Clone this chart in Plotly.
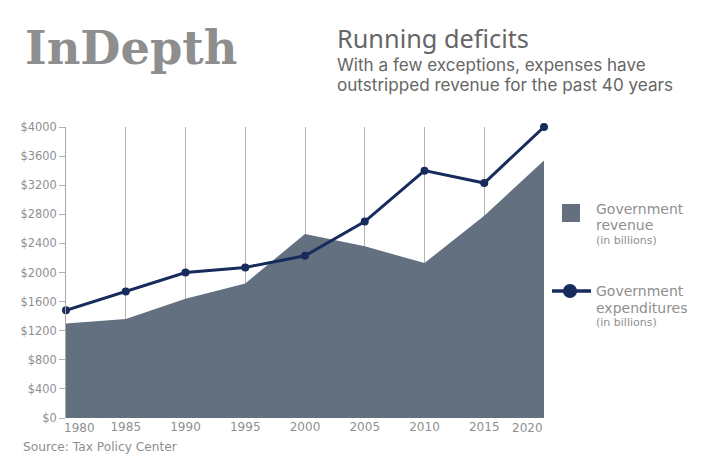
import plotly.graph_objects as go

W, H = 712, 475
L, R, T, B = 66, 544, 127, 418

years = [1980, 1985, 1990, 1995, 2000, 2005, 2010, 2015, 2020]
revenue = [1300, 1360, 1640, 1850, 2530, 2360, 2130, 2780, 3540]
expenditures = [1480, 1740, 2000, 2070, 2230, 2700, 3400, 3230, 4000]
y_ticks = [0, 400, 800, 1200, 1600, 2000, 2400, 2800, 3200, 3600, 4000]
y_labels = ["$" + str(v) for v in y_ticks]
x_labels = [str(y) for y in years]
positions = list(range(len(years)))

NAVY = "#172c5c"
GREY = "#8f8f8f"
AREA = "rgba(92,106,123,0.96)"
FONT = "DejaVu Sans"
TICK = 12


def px(x):
    return (x - L) / (R - L)


def py(y):
    return (B - y) / (B - T)


fig = go.Figure()
fig.add_trace(go.Scatter(x=positions, y=revenue, mode="none", fill="tozeroy",
                         fillcolor=AREA, hoverinfo="skip", name="Government revenue"))
fig.add_trace(go.Scatter(x=positions, y=expenditures, mode="lines+markers",
                         line=dict(color=NAVY, width=3), marker=dict(color=NAVY, size=8),
                         cliponaxis=False, name="Government expenditures"))


def text(x, y, s, size, color=GREY, family=FONT):
    return dict(x=px(x), y=py(y), xref="paper", yref="paper", text=s, showarrow=False,
                xanchor="left", yanchor="middle", align="left",
                font=dict(size=size, color=color, family=family))


annotations = [
    text(23, 48, "<b>InDepth</b>", 46.3, "#8e8e8e", "DejaVu Serif"),
    text(335, 38, "Running deficits", 25.3, "#666666", "Noto Sans"),
    text(335, 64, "With a few exceptions, expenses have", 17.1, "#666666", "Inter"),
    text(335, 84, "outstripped revenue for the past 40 years", 17.1, "#666666", "Inter"),
    text(594, 209, "Government", 14),
    text(594, 225, "revenue", 14),
    text(594, 240, "(in billions)", 11),
    text(594, 291, "Government", 14),
    text(594, 308, "expenditures", 14),
    text(594, 322, "(in billions)", 11),
    text(21, 447, "Source: Tax Policy Center", 12.2),
    # edge year labels sit inside the plot width
    dict(x=positions[0], y=0, yref="y", text=x_labels[0], showarrow=False, xanchor="center",
         yanchor="top", xshift=13, yshift=-1, font=dict(size=TICK, color=GREY, family=FONT)),
    dict(x=positions[-1], y=0, yref="y", text=x_labels[-1], showarrow=False, xanchor="center",
         yanchor="top", xshift=-17, yshift=-1, font=dict(size=TICK, color=GREY, family=FONT)),
]

shapes = [
    dict(type="rect", xref="paper", yref="paper", x0=px(562), x1=px(580), y0=py(204), y1=py(222),
         fillcolor="#64707f", line=dict(width=0)),
    dict(type="line", xref="paper", yref="paper", x0=px(552), x1=px(591), y0=py(291), y1=py(291),
         line=dict(color=NAVY, width=3.5)),
    dict(type="circle", xref="paper", yref="paper", x0=px(563), x1=px(577), y0=py(284), y1=py(298),
         fillcolor=NAVY, line=dict(width=0)),
]

fig.update_layout(
    width=W, height=H, autosize=False, showlegend=False,
    paper_bgcolor="white", plot_bgcolor="white",
    margin=dict(l=L, r=W - R, t=T, b=H - B, pad=0),
    annotations=annotations, shapes=shapes,
    font=dict(family=FONT, color=GREY),
    xaxis=dict(range=[0, len(years) - 1], tickmode="array", tickvals=positions[1:-1],
               ticktext=x_labels[1:-1], showgrid=True, gridcolor="#b3b3b3", gridwidth=1,
               zeroline=False, showline=False, ticks="", tickfont=dict(size=TICK, color=GREY, family=FONT)),
    yaxis=dict(range=[0, 4000], tickmode="array", tickvals=y_ticks, ticktext=y_labels,
               showgrid=False, zeroline=False, showline=True, linecolor="#a8a8a8", linewidth=1,
               ticks="outside", ticklen=6, tickcolor="#b3b3b3", tickwidth=1,
               tickfont=dict(size=11.4, color=GREY, family=FONT)),
)

fig.write_html("out.html", config=dict(displayModeBar=False),
               post_script="document.body.style.margin='0';")
